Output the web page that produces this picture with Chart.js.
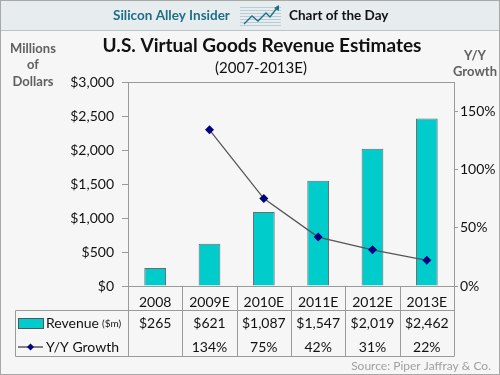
<!DOCTYPE html>
<html>
<head>
<meta charset="utf-8">
<script src="https://cdn.jsdelivr.net/npm/chart.js@4/dist/chart.umd.min.js"></script>
<style>
  html, body { margin: 0; padding: 0; background: #fff; }
  #wrap { width: 500px; height: 375px; }
</style>
</head>
<body>
<div id="wrap"><canvas id="chart" width="500" height="375"></canvas></div>
<script>
const categories = ["2008", "2009E", "2010E", "2011E", "2012E", "2013E"];
const revenue = [265, 621, 1087, 1547, 2019, 2462];
const growth = [null, 134, 75, 42, 31, 22];
const revenueTicks = [0, 500, 1000, 1500, 2000, 2500, 3000];
const growthTicks = [0, 50, 100, 150];

const FONT = "Lato, 'Open Sans', sans-serif";
const fmtMoney = v => "$" + v.toLocaleString("en-US");

const decor = {
  id: "decor",
  beforeDraw(chart) {
    const c = chart.ctx;
    c.save();
    // page background + outer frame
    c.fillStyle = "#f6f6f6";
    c.fillRect(0, 0, 500, 375);
    c.strokeStyle = "#a8a8a8";
    c.lineWidth = 1;
    c.strokeRect(0.5, 0.5, 499, 374);
    // header band
    c.fillStyle = "#e7ecef";
    c.fillRect(1, 1, 498, 29);
    c.strokeStyle = "#b9c3c8";
    c.beginPath(); c.moveTo(1, 30.5); c.lineTo(499, 30.5); c.stroke();
    c.textBaseline = "middle";
    c.font = "bold 13.5px " + FONT;
    c.fillStyle = "#1d6f86";
    c.textAlign = "left";
    c.fillText("Silicon Alley Insider", 113, 16);
    c.fillStyle = "#111";
    c.fillText("Chart of the Day", 289, 16);
    // little logo
    c.strokeStyle = "#b8cdd6";
    for (let y = 7; y <= 26; y += 3) {
      c.beginPath(); c.moveTo(240, y + 0.5); c.lineTo(281, y + 0.5); c.stroke();
    }
    c.strokeStyle = "#1d6f86";
    c.lineWidth = 1.3;
    c.beginPath();
    c.moveTo(244, 24); c.lineTo(252, 16); c.lineTo(258, 21); c.lineTo(266, 13); c.lineTo(270, 17); c.lineTo(277, 8);
    c.stroke();
    c.fillStyle = "#1d6f86";
    c.beginPath(); c.moveTo(279, 5); c.lineTo(279, 11); c.lineTo(274, 8); c.closePath(); c.fill();

    // titles
    c.fillStyle = "#111";
    c.textAlign = "center";
    c.font = "bold 19px " + FONT;
    c.fillText("U.S. Virtual Goods Revenue Estimates", 262, 46);
    c.font = "15px " + FONT;
    c.fillText("(2007-2013E)", 261, 68);
    c.fillStyle = "#606060";
    c.font = "bold 13px " + FONT;
    c.fillText("Millions", 33, 49);
    c.fillText("of", 33, 65);
    c.fillText("Dollars", 33, 82);
    c.fillText("Y/Y", 475, 56);
    c.fillText("Growth", 475, 72);
    c.restore();
  },
  beforeDatasetsDraw(chart) {
    const c = chart.ctx, a = chart.chartArea, x = chart.scales.x;
    c.save();
    c.strokeStyle = "#9a9a9a";
    c.lineWidth = 1;
    c.strokeRect(Math.round(a.left) + 0.5, Math.round(a.top) + 0.5, Math.round(a.right - a.left), Math.round(a.bottom - a.top));
    // data table grid
    const rowTop = 310.5, rowBot = 356.5, tblLeft = 15.5;
    const step = (a.right - a.left) / categories.length;
    c.beginPath();
    for (let i = 0; i <= categories.length; i++) {
      const px = Math.round(x.getPixelForValue(i) - step / 2) + 0.5;
      c.moveTo(px, a.bottom); c.lineTo(px, rowBot);
    }
    c.moveTo(tblLeft, rowTop); c.lineTo(a.right, rowTop);
    c.moveTo(tblLeft, rowBot); c.lineTo(a.right, rowBot);
    c.moveTo(tblLeft, rowTop); c.lineTo(tblLeft, rowBot);
    c.stroke();
    c.restore();
  },
  afterDraw(chart) {
    const c = chart.ctx, x = chart.scales.x;
    c.save();
    c.textBaseline = "middle";
    // legend keys
    c.fillStyle = "#00cccc";
    c.fillRect(18, 318, 25, 10);
    c.strokeStyle = "#555";
    c.strokeRect(18.5, 318.5, 25, 10);
    c.strokeStyle = "#333";
    c.lineWidth = 1.2;
    c.beginPath(); c.moveTo(18, 347); c.lineTo(43, 347); c.stroke();
    c.fillStyle = "#000080";
    c.beginPath(); c.moveTo(30.5, 343.5); c.lineTo(34, 347); c.lineTo(30.5, 350.5); c.lineTo(27, 347); c.closePath(); c.fill();
    c.fillStyle = "#111";
    c.textAlign = "left";
    c.font = "14px " + FONT;
    c.fillText("Revenue", 46, 323);
    const rw = c.measureText("Revenue").width;
    c.font = "10px " + FONT;
    c.fillText("($m)", 46 + rw + 3, 324);
    c.font = "14px " + FONT;
    c.fillText("Y/Y Growth", 46, 347);
    // table values
    c.textAlign = "center";
    categories.forEach((cat, i) => {
      const px = x.getPixelForValue(i);
      c.fillText(fmtMoney(revenue[i]), px, 323);
      if (growth[i] !== null) c.fillText(growth[i] + "%", px, 347);
    });
    // source
    c.textAlign = "right";
    c.font = "12px " + FONT;
    c.fillStyle = "#a0a0a0";
    c.fillText("Source: Piper Jaffray & Co.", 491, 366);
    c.restore();
  }
};

new Chart(document.getElementById("chart"), {
  data: {
    labels: categories,
    datasets: [
      {
        type: "line",
        label: "Y/Y Growth",
        data: growth,
        yAxisID: "y2",
        borderColor: "#555",
        borderWidth: 1.3,
        pointStyle: "rectRot",
        pointRadius: 4.5,
        pointBackgroundColor: "#000080",
        pointBorderColor: "#000080",
        pointBorderWidth: 0,
        tension: 0,
        order: 0
      },
      {
        type: "bar",
        label: "Revenue ($m)",
        data: revenue,
        yAxisID: "y",
        backgroundColor: "#00cccc",
        borderColor: "#6a6a6a",
        borderWidth: 1,
        categoryPercentage: 1,
        barPercentage: 0.4,
        order: 1
      }
    ]
  },
  options: {
    responsive: false,
    animation: false,
    layout: { padding: { top: 82, left: 0, right: 0, bottom: 0 } },
    plugins: {
      legend: { display: false },
      title: { display: false },
      tooltip: { enabled: false }
    },
    scales: {
      x: {
        grid: { display: false, drawTicks: false },
        border: { display: false },
        ticks: { color: "#111", font: { family: FONT, size: 14 }, padding: 8, maxRotation: 0 },
        afterFit: s => { s.height = 89; }
      },
      y: {
        position: "left",
        min: 0,
        max: 3000,
        afterBuildTicks: s => { s.ticks = revenueTicks.map(v => ({ value: v })); },
        grid: { drawOnChartArea: false, tickLength: 6, color: "#9a9a9a" },
        border: { color: "#9a9a9a" },
        ticks: { color: "#111", font: { family: FONT, size: 14 }, padding: 8, callback: v => fmtMoney(v) },
        afterFit: s => { s.width = 128; }
      },
      y2: {
        position: "right",
        min: 0,
        max: 175,
        afterBuildTicks: s => { s.ticks = growthTicks.map(v => ({ value: v })); },
        grid: { drawOnChartArea: false, tickLength: 4, color: "#9a9a9a" },
        border: { color: "#9a9a9a" },
        ticks: { color: "#111", font: { family: FONT, size: 14 }, padding: 2, callback: v => v + "%" },
        afterFit: s => { s.width = 46; }
      }
    }
  },
  plugins: [decor]
});
</script>
</body>
</html>
